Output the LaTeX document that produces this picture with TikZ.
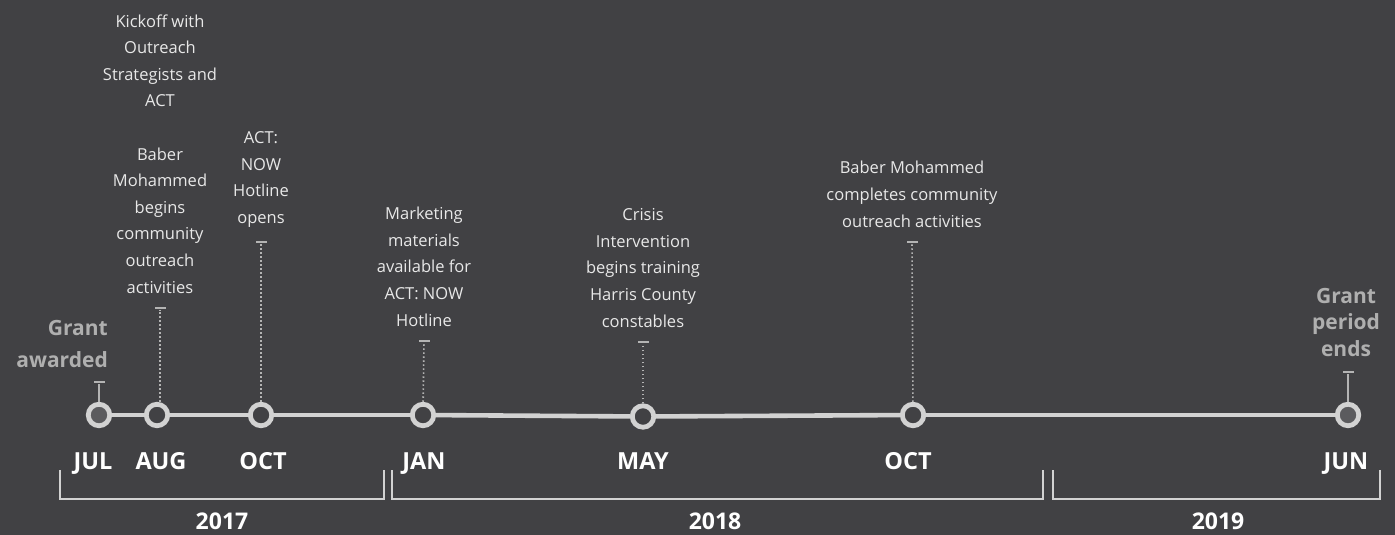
\documentclass[tikz,border=0pt]{standalone}
\usepackage{fontspec}
\setmainfont{Open Sans}
\usetikzlibrary{positioning}
\definecolor{bgDark}{HTML}{414144}
\definecolor{spineGray}{HTML}{D2D2D2}
\definecolor{stemGray}{HTML}{B4B4B4}
\definecolor{noteText}{HTML}{E8E8E8}
\definecolor{grantGray}{HTML}{AFAFAF}
\definecolor{hubFill}{HTML}{5B5B5E}

\begin{document}
\begin{tikzpicture}[
  x=1pt, y=-1pt,
  %% Node styles
  dot/.style={
    circle, draw=spineGray, fill=bgDark,
    line width=4.8pt, minimum size=21.5pt, inner sep=0pt
  },
  enddot/.style={dot, fill=hubFill},
  capbar/.style={
    rectangle, fill=stemGray, draw=none,
    minimum width=11pt, minimum height=2.6pt, inner sep=0pt
  },
  event/.style={
    align=center, text=noteText, inner sep=0pt,
    font=\fontsize{16.5}{26.6}\selectfont
  },
  grant/.style={
    align=center, text=grantGray, inner sep=0pt,
    font=\fontsize{21}{32}\selectfont\bfseries
  },
  month/.style={anchor=base, text=white,
                font=\fontsize{23.5}{26}\selectfont\bfseries},
  year/.style={anchor=base, text=white,
               font=\fontsize{23}{26}\selectfont\bfseries},
  %% Line styles
  spine/.style={draw=spineGray, line width=4.6pt},
  stem/.style={draw=stemGray, line width=1.6pt,
               dash pattern=on 1.6pt off 2.4pt},
  solidstem/.style={draw=stemGray, line width=2pt},
  bracket/.style={draw=spineGray, line width=1.4pt},
]

%% ── Background and page size ─────────────────────────────────────────────
\fill[bgDark] (0,0) rectangle (1395,535);
\useasboundingbox (0,0) rectangle (1395,535);

%% ── Milestones on the spine ───────────────────────────────────────────────
\node[enddot] (mJul)  at (99,415)   {};
\node[dot]    (mAug)  at (157,415)  {};
\node[dot]    (mOct)  at (261,415)  {};
\node[dot]    (mJan)  at (423,415)  {};
\node[dot]    (mMay)  at (643,416.5){};
\node[dot]    (mOctB) at (913,415)  {};
\node[enddot] (mJun)  at (1348,415) {};

\draw[spine] (mJul) -- (mAug);
\draw[spine] (mAug) -- (mOct);
\draw[spine] (mOct) -- (mJan);
\draw[spine] (mJan) -- (mMay);
\draw[spine] (mMay) -- (mOctB);
\draw[spine] (mOctB) -- (mJun);

%% ── Stems with end caps ───────────────────────────────────────────────────
\node[capbar] (cJul)  at (99,382)   {};
\node[capbar] (cAug)  at (160,308)  {};
\node[capbar] (cOct)  at (261,242)  {};
\node[capbar] (cJan)  at (424,341)  {};
\node[capbar] (cMay)  at (643,342)  {};
\node[capbar] (cOctB) at (912,242)  {};
\node[capbar] (cJun)  at (1348,372) {};

\draw[solidstem] (mJul)  -- (cJul);
\draw[stem]      (mAug.north -| cAug)  -- (cAug);
\draw[stem]      (mOct)  -- (cOct);
\draw[stem]      (mJan)  -- (cJan);
\draw[stem]      (mMay)  -- (cMay);
\draw[stem]      (mOctB) -- (cOctB);
\draw[solidstem] (mJun)  -- (cJun);

%% ── Event notes ───────────────────────────────────────────────────────────
\node[grant, align=right, anchor=south east] (tJul) at (108,368)
  {Grant\\awarded};
\node[event, above=13pt of cAug] (tAug)
  {Kickoff with\\Outreach\\Strategists and\\ACT\\[26.6pt]Baber\\Mohammed\\begins\\community\\outreach\\activities};
\node[event, above=13pt of cOct] (tOct)
  {ACT:\\NOW\\Hotline\\opens};
\node[event, above=13pt of cJan] (tJan)
  {Marketing\\materials\\available for\\ACT: NOW\\Hotline};
\node[event, above=13pt of cMay] (tMay)
  {Crisis\\Intervention\\begins training\\Harris County\\constables};
\node[event, above=13pt of cOctB] (tOctB)
  {Baber Mohammed\\completes community\\outreach activities};
\node[grant, above=14pt of cJun, xshift=-2pt,
      font=\fontsize{21}{26.5}\selectfont\bfseries] (tJun)
  {Grant\\period\\ends};

%% ── Month labels ──────────────────────────────────────────────────────────
\node[month] (lJul)  at (93,469)   {JUL};
\node[month] (lAug)  at (161,469)  {AUG};
\node[month] (lOct)  at (263,469)  {OCT};
\node[month] (lJan)  at (424,469)  {JAN};
\node[month] (lMay)  at (643,469)  {MAY};
\node[month] (lOctB) at (908,469)  {OCT};
\node[month] (lJun)  at (1346,469) {JUN};

%% ── Year brackets ─────────────────────────────────────────────────────────
\draw[bracket] (60,470)   |- (384,499)  -- (384,470);
\draw[bracket] (392,470)  |- (1043,499) -- (1043,470);
\draw[bracket] (1053,470) |- (1380,499) -- (1380,470);

\node[year] (y2017) at (222,529)  {2017};
\node[year] (y2018) at (715,529)  {2018};
\node[year] (y2019) at (1218,529) {2019};

\end{tikzpicture}
\end{document}
